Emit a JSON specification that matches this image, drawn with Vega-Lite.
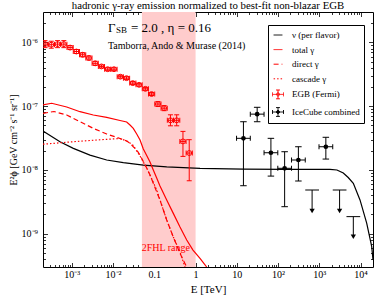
{
  "$schema": "https://vega.github.io/schema/vega-lite/v6.json",
  "width": 330,
  "height": 255,
  "autosize": {"type": "none"},
  "padding": {"left": 43, "top": 12, "right": 1, "bottom": 28},
  "title": {"text": "hadronic γ-ray emission normalized to best-fit non-blazar EGB", "fontSize": 10.8, "fontWeight": "normal", "font": "Liberation Serif", "offset": 1, "anchor": "middle", "color": "black"},
  "config": {
    "font": "Liberation Serif",
    "view": {"stroke": "black", "strokeWidth": 1},
    "axis": {"grid": false, "domain": false, "tickColor": "black", "tickWidth": 0.8, "labelColor": "black", "titleColor": "black", "labelFont": "Liberation Serif", "titleFont": "Liberation Serif", "labelFontSize": 10, "titleFontSize": 10, "titleFontWeight": "normal", "labelOverlap": false, "labelFlush": false},
    "legend": {"strokeColor": "black", "fillColor": "white", "padding": 4, "rowPadding": 3.6, "symbolSize": 121, "symbolStrokeWidth": 1, "symbolFillColor": "transparent", "labelFont": "Liberation Serif", "labelFontSize": 9, "labelColor": "black", "labelOffset": 8, "cornerRadius": 0}
  },
  "resolve": {"axis": {"x": "independent", "y": "independent"}},
  "datasets": {
    "lines": [
      {"series": "ν (per flavor)", "E": 0.0002, "F": 4.07e-8},
      {"series": "ν (per flavor)", "E": 0.000516, "F": 2.77e-8},
      {"series": "ν (per flavor)", "E": 0.001087, "F": 2.18e-8},
      {"series": "ν (per flavor)", "E": 0.002754, "F": 1.71e-8},
      {"series": "ν (per flavor)", "E": 0.007, "F": 1.43e-8},
      {"series": "ν (per flavor)", "E": 0.0177, "F": 1.3e-8},
      {"series": "ν (per flavor)", "E": 0.0541, "F": 1.19e-8},
      {"series": "ν (per flavor)", "E": 0.1995, "F": 1.12e-8},
      {"series": "ν (per flavor)", "E": 1.28, "F": 1.06e-8},
      {"series": "ν (per flavor)", "E": 14.35, "F": 1.03e-8},
      {"series": "ν (per flavor)", "E": 158.5, "F": 1.02e-8},
      {"series": "ν (per flavor)", "E": 1816, "F": 1.02e-8},
      {"series": "ν (per flavor)", "E": 2673, "F": 9.98e-9},
      {"series": "ν (per flavor)", "E": 3811, "F": 8.95e-9},
      {"series": "ν (per flavor)", "E": 5012, "F": 7.6e-9},
      {"series": "ν (per flavor)", "E": 6668, "F": 6.17e-9},
      {"series": "ν (per flavor)", "E": 9683, "F": 3.38e-9},
      {"series": "ν (per flavor)", "E": 14060, "F": 1.46e-9},
      {"series": "ν (per flavor)", "E": 18620, "F": 6.25e-10},
      {"series": "ν (per flavor)", "E": 20000, "F": 3.86e-10},
      {"series": "total γ", "E": 0.0002, "F": 1.05e-7},
      {"series": "total γ", "E": 0.000325, "F": 1.11e-7},
      {"series": "total γ", "E": 0.000752, "F": 9.7e-8},
      {"series": "total γ", "E": 0.001578, "F": 8.19e-8},
      {"series": "total γ", "E": 0.003311, "F": 7.27e-8},
      {"series": "total γ", "E": 0.007, "F": 6.68e-8},
      {"series": "total γ", "E": 0.01472, "F": 5.96e-8},
      {"series": "total γ", "E": 0.02138, "F": 5.64e-8},
      {"series": "total γ", "E": 0.0257, "F": 5.06e-8},
      {"series": "total γ", "E": 0.0309, "F": 4.49e-8},
      {"series": "total γ", "E": 0.0374, "F": 3.66e-8},
      {"series": "total γ", "E": 0.045, "F": 2.94e-8},
      {"series": "total γ", "E": 0.0541, "F": 2.13e-8},
      {"series": "total γ", "E": 0.0653, "F": 1.68e-8},
      {"series": "total γ", "E": 0.0785, "F": 1.33e-8},
      {"series": "total γ", "E": 0.0944, "F": 9.95e-9},
      {"series": "total γ", "E": 0.114, "F": 7.46e-9},
      {"series": "total γ", "E": 0.1371, "F": 5.6e-9},
      {"series": "total γ", "E": 0.1995, "F": 3.37e-9},
      {"series": "total γ", "E": 0.2884, "F": 2.08e-9},
      {"series": "total γ", "E": 0.4188, "F": 1.27e-9},
      {"series": "total γ", "E": 0.6095, "F": 7.94e-10},
      {"series": "total γ", "E": 0.865, "F": 5.53e-10},
      {"series": "total γ", "E": 1.28, "F": 4.1e-10},
      {"series": "total γ", "E": 1.862, "F": 3.0e-10},
      {"series": "direct γ", "E": 0.0002, "F": 7.73e-8},
      {"series": "direct γ", "E": 0.00037, "F": 8.24e-8},
      {"series": "direct γ", "E": 0.000752, "F": 7.27e-8},
      {"series": "direct γ", "E": 0.001578, "F": 5.7e-8},
      {"series": "direct γ", "E": 0.003311, "F": 4.49e-8},
      {"series": "direct γ", "E": 0.007, "F": 3.66e-8},
      {"series": "direct γ", "E": 0.01472, "F": 3.11e-8},
      {"series": "direct γ", "E": 0.02138, "F": 2.84e-8},
      {"series": "direct γ", "E": 0.0257, "F": 2.61e-8},
      {"series": "direct γ", "E": 0.0309, "F": 2.31e-8},
      {"series": "direct γ", "E": 0.0374, "F": 2.05e-8},
      {"series": "direct γ", "E": 0.045, "F": 1.71e-8},
      {"series": "direct γ", "E": 0.0541, "F": 1.36e-8},
      {"series": "direct γ", "E": 0.0653, "F": 1.07e-8},
      {"series": "direct γ", "E": 0.0785, "F": 8.32e-9},
      {"series": "direct γ", "E": 0.0944, "F": 6.17e-9},
      {"series": "direct γ", "E": 0.1371, "F": 3.37e-9},
      {"series": "direct γ", "E": 0.1995, "F": 1.64e-9},
      {"series": "direct γ", "E": 0.2884, "F": 8.87e-10},
      {"series": "direct γ", "E": 0.4188, "F": 4.92e-10},
      {"series": "direct γ", "E": 0.6095, "F": 3.0e-10},
      {"series": "cascade γ", "E": 0.0002, "F": 2.53e-8},
      {"series": "cascade γ", "E": 0.001087, "F": 2.77e-8},
      {"series": "cascade γ", "E": 0.007, "F": 3.02e-8},
      {"series": "cascade γ", "E": 0.01472, "F": 3.11e-8},
      {"series": "cascade γ", "E": 0.02138, "F": 2.84e-8},
      {"series": "cascade γ", "E": 0.0257, "F": 2.64e-8},
      {"series": "cascade γ", "E": 0.0309, "F": 2.42e-8},
      {"series": "cascade γ", "E": 0.0374, "F": 1.98e-8},
      {"series": "cascade γ", "E": 0.045, "F": 1.65e-8},
      {"series": "cascade γ", "E": 0.0541, "F": 1.33e-8},
      {"series": "cascade γ", "E": 0.0653, "F": 1.07e-8},
      {"series": "cascade γ", "E": 0.0785, "F": 8.32e-9},
      {"series": "cascade γ", "E": 0.114, "F": 4.84e-9},
      {"series": "cascade γ", "E": 0.1995, "F": 1.64e-9},
      {"series": "cascade γ", "E": 0.2884, "F": 8.87e-10},
      {"series": "cascade γ", "E": 0.4188, "F": 5.15e-10},
      {"series": "cascade γ", "E": 0.5534, "F": 3.0e-10}
    ],
    "egb": [
      {"E": 0.0002239, "Elo": 0.0001884, "Ehi": 0.0002661, "F": 9.4e-7, "Flo": 8.28e-7, "Fhi": 1.067e-6},
      {"E": 0.0003177, "Elo": 0.0002673, "Ehi": 0.0003776, "F": 9.2e-7, "Flo": 8.11e-7, "Fhi": 1.044e-6},
      {"E": 0.0004508, "Elo": 0.0003793, "Ehi": 0.0005358, "F": 9.4e-7, "Flo": 8.28e-7, "Fhi": 1.067e-6},
      {"E": 0.0006397, "Elo": 0.0005382, "Ehi": 0.0007603, "F": 9.4e-7, "Flo": 8.28e-7, "Fhi": 1.067e-6},
      {"E": 0.0009078, "Elo": 0.0007638, "Ehi": 0.001079, "F": 8.3e-7, "Flo": 7.72e-7, "Fhi": 8.92e-7},
      {"E": 0.001288, "Elo": 0.001084, "Ehi": 0.001531, "F": 7.2e-7, "Flo": 6.7e-7, "Fhi": 7.74e-7},
      {"E": 0.001828, "Elo": 0.001538, "Ehi": 0.002173, "F": 6.4e-7, "Flo": 5.95e-7, "Fhi": 6.88e-7},
      {"E": 0.002594, "Elo": 0.002183, "Ehi": 0.003083, "F": 5.7e-7, "Flo": 5.3e-7, "Fhi": 6.13e-7},
      {"E": 0.003681, "Elo": 0.003097, "Ehi": 0.004375, "F": 4.7e-7, "Flo": 4.37e-7, "Fhi": 5.05e-7},
      {"E": 0.005224, "Elo": 0.004395, "Ehi": 0.006209, "F": 4.2e-7, "Flo": 3.98e-7, "Fhi": 4.43e-7},
      {"E": 0.007413, "Elo": 0.006237, "Ehi": 0.00881, "F": 3.8e-7, "Flo": 3.6e-7, "Fhi": 4.01e-7},
      {"E": 0.01052, "Elo": 0.008852, "Ehi": 0.0125, "F": 3.8e-7, "Flo": 3.6e-7, "Fhi": 4.01e-7},
      {"E": 0.01493, "Elo": 0.01256, "Ehi": 0.01774, "F": 2.9e-7, "Flo": 2.75e-7, "Fhi": 3.06e-7},
      {"E": 0.02118, "Elo": 0.01782, "Ehi": 0.02517, "F": 2.75e-7, "Flo": 2.61e-7, "Fhi": 2.9e-7},
      {"E": 0.03006, "Elo": 0.02529, "Ehi": 0.03573, "F": 2.3e-7, "Flo": 2.18e-7, "Fhi": 2.43e-7},
      {"E": 0.04266, "Elo": 0.03589, "Ehi": 0.0507, "F": 2.16e-7, "Flo": 2.05e-7, "Fhi": 2.28e-7},
      {"E": 0.06053, "Elo": 0.05093, "Ehi": 0.07194, "F": 1.87e-7, "Flo": 1.77e-7, "Fhi": 1.97e-7},
      {"E": 0.0859, "Elo": 0.07228, "Ehi": 0.1021, "F": 1.55e-7, "Flo": 1.47e-7, "Fhi": 1.64e-7},
      {"E": 0.1219, "Elo": 0.1026, "Ehi": 0.1449, "F": 1.08e-7, "Flo": 9.87e-8, "Fhi": 1.18e-7},
      {"E": 0.173, "Elo": 0.1456, "Ehi": 0.2056, "F": 9.3e-8, "Flo": 8.5e-8, "Fhi": 1.02e-7},
      {"E": 0.2455, "Elo": 0.2066, "Ehi": 0.2918, "F": 6.0e-8, "Flo": 4.92e-8, "Fhi": 7.32e-8},
      {"E": 0.3483, "Elo": 0.2931, "Ehi": 0.414, "F": 6.0e-8, "Flo": 4.92e-8, "Fhi": 7.32e-8},
      {"E": 0.4943, "Elo": 0.4159, "Ehi": 0.5875, "F": 2.8e-8, "Flo": 1.63e-8, "Fhi": 4.02e-8},
      {"E": 0.7015, "Elo": 0.5902, "Ehi": 0.8337, "F": 1.84e-8, "Flo": 6.76e-9, "Fhi": 2.98e-8}
    ],
    "ic": [
      {"E": 14.45, "Elo": 9.84, "Ehi": 21.2, "F": 3.13e-8, "Flo": 5.65e-9, "Fhi": 5.7e-8},
      {"E": 31.1, "Elo": 21.2, "Ehi": 45.7, "F": 7.5e-8, "Flo": 5.7e-8, "Fhi": 9.6e-8},
      {"E": 67.0, "Elo": 45.7, "Ehi": 98.4, "F": 1.86e-8, "Flo": 8.0e-9, "Fhi": 3.13e-8},
      {"E": 144.2, "Elo": 98.4, "Ehi": 211.8, "F": 1.06e-8, "Flo": 2.65e-9, "Fhi": 1.93e-8},
      {"E": 310.5, "Elo": 211.8, "Ehi": 456, "F": 1.43e-8, "Flo": 6.7e-9, "Fhi": 2.31e-8},
      {"E": 1439, "Elo": 982, "Ehi": 2113, "F": 2.31e-8, "Flo": 1.48e-8, "Fhi": 3.25e-8}
    ],
    "ul": [
      {"E": 668, "Elo": 456, "Ehi": 982, "F": 4.84e-9, "Ftip": 2.27e-9},
      {"E": 3097, "Elo": 2113, "Ehi": 4550, "F": 4.84e-9, "Ftip": 2.27e-9},
      {"E": 6668, "Elo": 4550, "Ehi": 9795, "F": 1.85e-9, "Ftip": 8.95e-10}
    ],
    "leg": [
      {"series": "ν (per flavor)"},
      {"series": "total γ"},
      {"series": "direct γ"},
      {"series": "cascade γ"},
      {"series": "EGB (Fermi)"},
      {"series": "IceCube combined"}
    ]
  },
  "layer": [
    {
      "data": {"values": [{}]},
      "mark": {"type": "rect", "color": "#ffcccc"},
      "encoding": {
        "x": {"datum": 0.05, "type": "quantitative", "scale": {"type": "log", "domain": [0.0002, 20000], "nice": false}, "axis": null},
        "x2": {"datum": 1},
        "y": {"datum": 3e-10, "type": "quantitative", "scale": {"type": "log", "domain": [3e-10, 3e-6], "nice": false}, "axis": null},
        "y2": {"datum": 3e-6}
      }
    },
    {
      "data": {"name": "lines"},
      "transform": [{"filter": "datum.series == 'ν (per flavor)'"}],
      "mark": {"type": "line", "strokeWidth": 1.2, "clip": true, "color": "black"},
      "encoding": {
        "x": {"field": "E", "type": "quantitative", "scale": {"type": "log", "domain": [0.0002, 20000], "nice": false},
          "axis": {"orient": "bottom", "title": "E [TeV]", "titleFontSize": 11, "titlePadding": 2, "labelPadding": 7,
            "values": [0.0003,0.0004,0.0005,0.0006,0.0007,0.0008,0.0009,0.001,0.002,0.003,0.004,0.005,0.006,0.007,0.008,0.009,0.01,0.02,0.03,0.04,0.05,0.06,0.07,0.08,0.09,0.1,0.2,0.3,0.4,0.5,0.6,0.7,0.8,0.9,1,2,3,4,5,6,7,8,9,10,20,30,40,50,60,70,80,90,100,200,300,400,500,600,700,800,900,1000,2000,3000,4000,5000,6000,7000,8000,9000,10000],
            "labelExpr": "abs(log(datum.value)/LN10 - round(log(datum.value)/LN10)) < 0.01 ? ['10⁻³','10⁻²','0.1','1','10','10²','10³','10⁴'][round(log(datum.value)/LN10)+3] : ''",
            "tickSize": {"condition": {"test": "abs(log(datum.value)/LN10 - round(log(datum.value)/LN10)) < 0.01", "value": -4.5}, "value": -2.5}}},
        "y": {"field": "F", "type": "quantitative", "scale": {"type": "log", "domain": [3e-10, 3e-6], "nice": false},
          "axis": {"orient": "left", "title": "E²ϕ [GeV cm⁻² s⁻¹ sr⁻¹]", "titlePadding": 3, "labelPadding": 10,
            "values": [4e-10,5e-10,6e-10,7e-10,8e-10,9e-10,1e-9,2e-9,3e-9,4e-9,5e-9,6e-9,7e-9,8e-9,9e-9,1e-8,2e-8,3e-8,4e-8,5e-8,6e-8,7e-8,8e-8,9e-8,1e-7,2e-7,3e-7,4e-7,5e-7,6e-7,7e-7,8e-7,9e-7,1e-6,2e-6],
            "labelExpr": "abs(log(datum.value)/LN10 - round(log(datum.value)/LN10)) < 0.01 ? '10' + ['⁻⁹','⁻⁸','⁻⁷','⁻⁶'][round(log(datum.value)/LN10)+9] : ''",
            "tickSize": {"condition": {"test": "abs(log(datum.value)/LN10 - round(log(datum.value)/LN10)) < 0.01", "value": -4.5}, "value": -2.5}}}
      }
    },
    {
      "data": {"name": "lines"},
      "transform": [{"filter": "datum.series == 'total γ'"}],
      "mark": {"type": "line", "strokeWidth": 1.2, "clip": true, "color": "red"},
      "encoding": {
        "x": {"field": "E", "type": "quantitative", "scale": {"type": "log", "domain": [0.0002, 20000], "nice": false}, "axis": null},
        "y": {"field": "F", "type": "quantitative", "scale": {"type": "log", "domain": [3e-10, 3e-6], "nice": false}, "axis": null}
      }
    },
    {
      "data": {"name": "lines"},
      "transform": [{"filter": "datum.series == 'direct γ'"}],
      "mark": {"type": "line", "strokeWidth": 1.2, "clip": true, "color": "red", "strokeDash": [5, 3]},
      "encoding": {
        "x": {"field": "E", "type": "quantitative", "scale": {"type": "log", "domain": [0.0002, 20000], "nice": false}, "axis": null},
        "y": {"field": "F", "type": "quantitative", "scale": {"type": "log", "domain": [3e-10, 3e-6], "nice": false}, "axis": null}
      }
    },
    {
      "data": {"name": "lines"},
      "transform": [{"filter": "datum.series == 'cascade γ'"}],
      "mark": {"type": "line", "strokeWidth": 1.2, "clip": true, "color": "red", "strokeDash": [1.5, 2]},
      "encoding": {
        "x": {"field": "E", "type": "quantitative", "scale": {"type": "log", "domain": [0.0002, 20000], "nice": false}, "axis": null},
        "y": {"field": "F", "type": "quantitative", "scale": {"type": "log", "domain": [3e-10, 3e-6], "nice": false}, "axis": null}
      }
    },
    {
      "data": {"name": "egb"},
      "mark": {"type": "rule", "color": "red", "strokeWidth": 1, "clip": true},
      "encoding": {
        "x": {"field": "E", "type": "quantitative", "scale": {"type": "log", "domain": [0.0002, 20000], "nice": false}, "axis": null},
        "y": {"field": "Flo", "type": "quantitative", "scale": {"type": "log", "domain": [3e-10, 3e-6], "nice": false}, "axis": null},
        "y2": {"field": "Fhi"}
      }
    },
    {
      "data": {"name": "egb"},
      "mark": {"type": "rule", "color": "red", "strokeWidth": 1, "clip": true},
      "encoding": {
        "x": {"field": "Elo", "type": "quantitative", "scale": {"type": "log", "domain": [0.0002, 20000], "nice": false}, "axis": null},
        "x2": {"field": "Ehi"},
        "y": {"field": "F", "type": "quantitative", "scale": {"type": "log", "domain": [3e-10, 3e-6], "nice": false}, "axis": null}
      }
    },
    {
      "data": {"name": "egb"},
      "transform": [{"fold": ["Flo", "Fhi"], "as": ["k", "v"]}],
      "mark": {"type": "tick", "orient": "horizontal", "color": "red", "size": 5, "thickness": 1, "opacity": 1, "clip": true},
      "encoding": {
        "x": {"field": "E", "type": "quantitative", "scale": {"type": "log", "domain": [0.0002, 20000], "nice": false}, "axis": null},
        "y": {"field": "v", "type": "quantitative", "scale": {"type": "log", "domain": [3e-10, 3e-6], "nice": false}, "axis": null}
      }
    },
    {
      "data": {"name": "egb"},
      "transform": [{"fold": ["Elo", "Ehi"], "as": ["k", "v"]}],
      "mark": {"type": "tick", "orient": "vertical", "color": "red", "size": 5, "thickness": 1, "opacity": 1, "clip": true},
      "encoding": {
        "x": {"field": "v", "type": "quantitative", "scale": {"type": "log", "domain": [0.0002, 20000], "nice": false}, "axis": null},
        "y": {"field": "F", "type": "quantitative", "scale": {"type": "log", "domain": [3e-10, 3e-6], "nice": false}, "axis": null}
      }
    },
    {
      "data": {"name": "egb"},
      "mark": {"type": "point", "shape": "circle", "filled": false, "color": "red", "size": 24, "strokeWidth": 1, "opacity": 1, "clip": true},
      "encoding": {
        "x": {"field": "E", "type": "quantitative", "scale": {"type": "log", "domain": [0.0002, 20000], "nice": false}, "axis": null},
        "y": {"field": "F", "type": "quantitative", "scale": {"type": "log", "domain": [3e-10, 3e-6], "nice": false}, "axis": null}
      }
    },
    {
      "data": {"name": "ic"},
      "mark": {"type": "rule", "color": "black", "strokeWidth": 1},
      "encoding": {
        "x": {"field": "E", "type": "quantitative", "scale": {"type": "log", "domain": [0.0002, 20000], "nice": false}, "axis": null},
        "y": {"field": "Flo", "type": "quantitative", "scale": {"type": "log", "domain": [3e-10, 3e-6], "nice": false}, "axis": null},
        "y2": {"field": "Fhi"}
      }
    },
    {
      "data": {"name": "ic"},
      "mark": {"type": "rule", "color": "black", "strokeWidth": 1},
      "encoding": {
        "x": {"field": "Elo", "type": "quantitative", "scale": {"type": "log", "domain": [0.0002, 20000], "nice": false}, "axis": null},
        "x2": {"field": "Ehi"},
        "y": {"field": "F", "type": "quantitative", "scale": {"type": "log", "domain": [3e-10, 3e-6], "nice": false}, "axis": null}
      }
    },
    {
      "data": {"name": "ic"},
      "transform": [{"fold": ["Flo", "Fhi"], "as": ["k", "v"]}],
      "mark": {"type": "tick", "orient": "horizontal", "color": "black", "size": 6.5, "thickness": 1, "opacity": 1},
      "encoding": {
        "x": {"field": "E", "type": "quantitative", "scale": {"type": "log", "domain": [0.0002, 20000], "nice": false}, "axis": null},
        "y": {"field": "v", "type": "quantitative", "scale": {"type": "log", "domain": [3e-10, 3e-6], "nice": false}, "axis": null}
      }
    },
    {
      "data": {"name": "ic"},
      "transform": [{"fold": ["Elo", "Ehi"], "as": ["k", "v"]}],
      "mark": {"type": "tick", "orient": "vertical", "color": "black", "size": 5, "thickness": 1, "opacity": 1},
      "encoding": {
        "x": {"field": "v", "type": "quantitative", "scale": {"type": "log", "domain": [0.0002, 20000], "nice": false}, "axis": null},
        "y": {"field": "F", "type": "quantitative", "scale": {"type": "log", "domain": [3e-10, 3e-6], "nice": false}, "axis": null}
      }
    },
    {
      "data": {"name": "ic"},
      "mark": {"type": "point", "shape": "circle", "filled": true, "color": "black", "size": 22, "opacity": 1},
      "encoding": {
        "x": {"field": "E", "type": "quantitative", "scale": {"type": "log", "domain": [0.0002, 20000], "nice": false}, "axis": null},
        "y": {"field": "F", "type": "quantitative", "scale": {"type": "log", "domain": [3e-10, 3e-6], "nice": false}, "axis": null}
      }
    },
    {
      "data": {"name": "ul"},
      "mark": {"type": "rule", "color": "black", "strokeWidth": 1},
      "encoding": {
        "x": {"field": "E", "type": "quantitative", "scale": {"type": "log", "domain": [0.0002, 20000], "nice": false}, "axis": null},
        "y": {"field": "F", "type": "quantitative", "scale": {"type": "log", "domain": [3e-10, 3e-6], "nice": false}, "axis": null},
        "y2": {"field": "Ftip"}
      }
    },
    {
      "data": {"name": "ul"},
      "mark": {"type": "rule", "color": "black", "strokeWidth": 1},
      "encoding": {
        "x": {"field": "Elo", "type": "quantitative", "scale": {"type": "log", "domain": [0.0002, 20000], "nice": false}, "axis": null},
        "x2": {"field": "Ehi"},
        "y": {"field": "F", "type": "quantitative", "scale": {"type": "log", "domain": [3e-10, 3e-6], "nice": false}, "axis": null}
      }
    },
    {
      "data": {"name": "ul"},
      "mark": {"type": "point", "shape": "triangle-down", "filled": true, "color": "black", "size": 28, "opacity": 1},
      "encoding": {
        "x": {"field": "E", "type": "quantitative", "scale": {"type": "log", "domain": [0.0002, 20000], "nice": false}, "axis": null},
        "y": {"field": "Ftip", "type": "quantitative", "scale": {"type": "log", "domain": [3e-10, 3e-6], "nice": false}, "axis": null}
      }
    },
    {
      "data": {"values": [{}]},
      "mark": {"type": "text", "text": "Γ", "align": "left", "baseline": "alphabetic", "fontSize": 13, "font": "Liberation Serif", "color": "black"},
      "encoding": {
        "x": {"datum": 0.0075, "type": "quantitative", "scale": {"type": "log", "domain": [0.0002, 20000], "nice": false}, "axis": null},
        "y": {"datum": 1.48e-6, "type": "quantitative", "scale": {"type": "log", "domain": [3e-10, 3e-6], "nice": false}, "axis": null}
      }
    },
    {
      "data": {"values": [{}]},
      "mark": {"type": "text", "text": "SB", "align": "left", "baseline": "alphabetic", "fontSize": 9, "font": "Liberation Serif", "color": "black"},
      "encoding": {
        "x": {"datum": 0.0118, "type": "quantitative", "scale": {"type": "log", "domain": [0.0002, 20000], "nice": false}, "axis": null},
        "y": {"datum": 1.38e-6, "type": "quantitative", "scale": {"type": "log", "domain": [3e-10, 3e-6], "nice": false}, "axis": null}
      }
    },
    {
      "data": {"values": [{}]},
      "mark": {"type": "text", "text": "= 2.0 , η = 0.16", "align": "left", "baseline": "alphabetic", "fontSize": 13, "font": "Liberation Serif", "color": "black"},
      "encoding": {
        "x": {"datum": 0.0272, "type": "quantitative", "scale": {"type": "log", "domain": [0.0002, 20000], "nice": false}, "axis": null},
        "y": {"datum": 1.48e-6, "type": "quantitative", "scale": {"type": "log", "domain": [3e-10, 3e-6], "nice": false}, "axis": null}
      }
    },
    {
      "data": {"values": [{}]},
      "mark": {"type": "text", "text": "Tamborra, Ando & Murase (2014)", "align": "left", "baseline": "alphabetic", "fontSize": 10, "font": "Liberation Serif", "color": "black"},
      "encoding": {
        "x": {"datum": 0.0075, "type": "quantitative", "scale": {"type": "log", "domain": [0.0002, 20000], "nice": false}, "axis": null},
        "y": {"datum": 8.0e-7, "type": "quantitative", "scale": {"type": "log", "domain": [3e-10, 3e-6], "nice": false}, "axis": null}
      }
    },
    {
      "data": {"values": [{}]},
      "mark": {"type": "text", "text": "2FHL range", "align": "center", "baseline": "alphabetic", "fontSize": 10, "font": "Liberation Serif", "color": "red"},
      "encoding": {
        "x": {"datum": 0.19, "type": "quantitative", "scale": {"type": "log", "domain": [0.0002, 20000], "nice": false}, "axis": null},
        "y": {"datum": 5.35e-10, "type": "quantitative", "scale": {"type": "log", "domain": [3e-10, 3e-6], "nice": false}, "axis": null}
      }
    },
    {
      "data": {"values": []},
      "mark": {"type": "point", "opacity": 0},
      "encoding": {
        "x": {"field": "E", "type": "quantitative", "scale": {"type": "log", "domain": [0.0002, 20000], "nice": false},
          "axis": {"orient": "top", "title": null, "labels": false,
            "values": [0.0003,0.0004,0.0005,0.0006,0.0007,0.0008,0.0009,0.001,0.002,0.003,0.004,0.005,0.006,0.007,0.008,0.009,0.01,0.02,0.03,0.04,0.05,0.06,0.07,0.08,0.09,0.1,0.2,0.3,0.4,0.5,0.6,0.7,0.8,0.9,1,2,3,4,5,6,7,8,9,10,20,30,40,50,60,70,80,90,100,200,300,400,500,600,700,800,900,1000,2000,3000,4000,5000,6000,7000,8000,9000,10000],
            "tickSize": {"condition": {"test": "abs(log(datum.value)/LN10 - round(log(datum.value)/LN10)) < 0.01", "value": -4.5}, "value": -2.5}}},
        "y": {"field": "F", "type": "quantitative", "scale": {"type": "log", "domain": [3e-10, 3e-6], "nice": false},
          "axis": {"orient": "right", "title": null, "labels": false,
            "values": [4e-10,5e-10,6e-10,7e-10,8e-10,9e-10,1e-9,2e-9,3e-9,4e-9,5e-9,6e-9,7e-9,8e-9,9e-9,1e-8,2e-8,3e-8,4e-8,5e-8,6e-8,7e-8,8e-8,9e-8,1e-7,2e-7,3e-7,4e-7,5e-7,6e-7,7e-7,8e-7,9e-7,1e-6,2e-6],
            "tickSize": {"condition": {"test": "abs(log(datum.value)/LN10 - round(log(datum.value)/LN10)) < 0.01", "value": -4.5}, "value": -2.5}}}
      }
    },
    {
      "data": {"name": "leg"},
      "mark": {"type": "point", "filled": false, "opacity": 1},
      "encoding": {
        "x": {"field": "E", "type": "quantitative", "scale": {"type": "log", "domain": [0.0002, 20000], "nice": false}, "axis": null},
        "y": {"field": "F", "type": "quantitative", "scale": {"type": "log", "domain": [3e-10, 3e-6], "nice": false}, "axis": null},
        "stroke": {"field": "series", "type": "nominal", "scale": {"domain": ["ν (per flavor)", "total γ", "direct γ", "cascade γ", "EGB (Fermi)", "IceCube combined"], "range": ["black", "red", "red", "red", "red", "black"]}, "legend": {"title": null, "orient": "none", "legendX": 225, "legendY": 13}},
        "fill": {"field": "series", "type": "nominal", "scale": {"domain": ["ν (per flavor)", "total γ", "direct γ", "cascade γ", "EGB (Fermi)", "IceCube combined"], "range": ["transparent", "transparent", "transparent", "transparent", "transparent", "black"]}, "legend": {"title": null, "orient": "none", "legendX": 225, "legendY": 13}},
        "shape": {"field": "series", "type": "nominal", "scale": {"domain": ["ν (per flavor)", "total γ", "direct γ", "cascade γ", "EGB (Fermi)", "IceCube combined"], "range": ["M-0.8,0H0.8", "M-0.8,0H0.8", "M-0.8,0H0.8", "M-0.8,0H0.8", "M-1,0H1M0,-0.8V0.8M-1,-0.35V0.35M1,-0.35V0.35M-0.35,-0.8H0.35M-0.35,0.8H0.35M0.28,0A0.28,0.28,0,1,1,-0.28,0A0.28,0.28,0,1,1,0.28,0Z", "M-1,0H1M0,-0.8V0.8M-1,-0.35V0.35M1,-0.35V0.35M-0.35,-0.8H0.35M-0.35,0.8H0.35M0.28,0A0.28,0.28,0,1,1,-0.28,0A0.28,0.28,0,1,1,0.28,0Z"]}, "legend": {"title": null, "orient": "none", "legendX": 225, "legendY": 13}},
        "strokeDash": {"field": "series", "type": "nominal", "scale": {"domain": ["ν (per flavor)", "total γ", "direct γ", "cascade γ", "EGB (Fermi)", "IceCube combined"], "range": [[1, 0], [1, 0], [5, 3], [1.5, 2], [1, 0], [1, 0]]}, "legend": {"title": null, "orient": "none", "legendX": 225, "legendY": 13}}
      }
    }
  ]
}
